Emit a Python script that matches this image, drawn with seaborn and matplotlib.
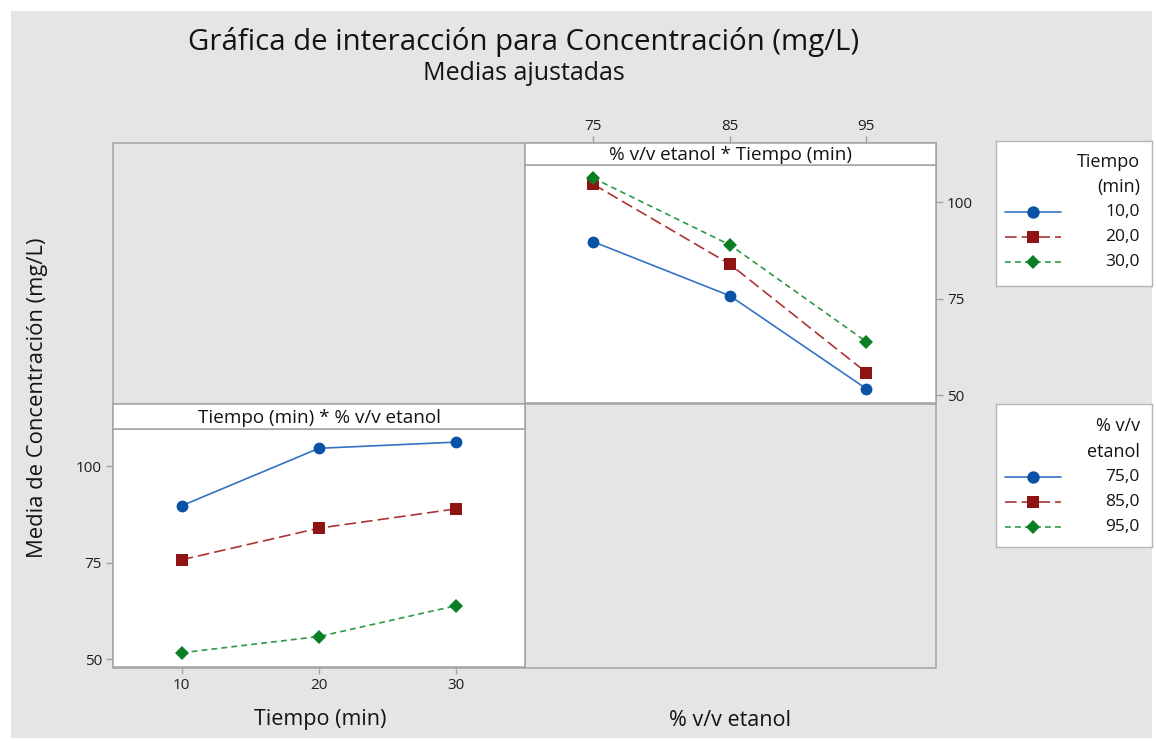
import matplotlib
matplotlib.use("Agg")
import matplotlib.pyplot as plt
import seaborn as sns
import pandas as pd
import numpy as np
from matplotlib.patches import Rectangle
from matplotlib.lines import Line2D

# Factor levels
etanol = [75, 85, 95]          # % v/v etanol
tiempo = [10, 20, 30]          # Tiempo (min)

# Adjusted means of concentration (mg/L), one list per ethanol level, ordered by tiempo
conc_etanol_75 = [89.8, 104.7, 106.3]
conc_etanol_85 = [75.8, 84.0, 89.0]
conc_etanol_95 = [51.7, 55.9, 63.9]

y_ticks = [50, 75, 100]
tiempo_labels = ["10,0", "20,0", "30,0"]
etanol_labels = ["75,0", "85,0", "95,0"]

title = "Gráfica de interacción para Concentración (mg/L)"
subtitle = "Medias ajustadas"
y_label = "Media de Concentración (mg/L)"
strip_tr_text = "% v/v etanol * Tiempo (min)"
strip_bl_text = "Tiempo (min) * % v/v etanol"

df = pd.DataFrame({
    "Etanol": np.repeat(etanol, len(tiempo)),
    "Tiempo": np.tile(tiempo, len(etanol)),
    "Conc": conc_etanol_75 + conc_etanol_85 + conc_etanol_95,
})

sns.set_theme(style="white")
plt.rcParams["font.family"] = ["Open Sans", "DejaVu Sans"]
plt.rcParams["text.color"] = "#141414"

W, H = 1156, 742
BG = "#e5e5e5"
EDGE = "#a3a3a3"
line_cols = ["#3573c4", "#ad3434", "#2c9a44"]
face_cols = ["#0a52a6", "#8e1414", "#0b7f24"]
marks = ["o", "s", "D"]
msizes = {"o": 8.5, "s": 8.6, "D": 6.8}
dash_list = ["", (7, 3), (3.5, 2.5)]

fig = plt.figure(figsize=(W / 100, H / 100), dpi=100, facecolor="white")
fig.patches.append(Rectangle((11 / W, 1 - 738 / H), (1152 - 11) / W, (738 - 11) / H,
                             transform=fig.transFigure, facecolor=BG, edgecolor="none", zorder=-10))


def fx(x):
    return x / W


def fy(y):
    return 1 - y / H


def axes_px(x0, y0, x1, y1, **kw):
    return fig.add_axes([x0 / W, 1 - y1 / H, (x1 - x0) / W, (y1 - y0) / H], **kw)


def style_spines(ax, color=EDGE, lw=1.1):
    for s in ax.spines.values():
        s.set_color(color)
        s.set_linewidth(lw)


# Outer 2x2 frame with the empty diagonal cells
fig.patches.append(Rectangle((fx(113), fy(668)), (936 - 113) / W, (668 - 143) / H,
                             transform=fig.transFigure, fill=False, edgecolor=EDGE, lw=1.1, zorder=-5))
fig.lines.append(Line2D([fx(525), fx(525)], [fy(143), fy(668)], transform=fig.transFigure,
                        color=EDGE, lw=1.1, zorder=-5))
fig.lines.append(Line2D([fx(113), fx(936)], [fy(404), fy(404)], transform=fig.transFigure,
                        color=EDGE, lw=1.1, zorder=-5))


def draw_panel(ax, x, hue, levels):
    pal = dict(zip(levels, line_cols))
    mk = dict(zip(levels, marks))
    ds = dict(zip(levels, dash_list))
    sns.lineplot(data=df, x=x, y="Conc", hue=hue, style=hue, palette=pal, markers=mk,
                 dashes=ds, lw=1.2, markeredgewidth=0, legend=False, ax=ax)
    for line in ax.lines:
        m = line.get_marker()
        if m in msizes:
            line.set_markersize(msizes[m])
            line.set_markerfacecolor(face_cols[marks.index(m)])
    ax.set_xlabel("")
    ax.set_ylabel("")
    ax.set_facecolor("white")
    ax.set_ylim(48, 109.7)
    ax.set_yticks(y_ticks)
    style_spines(ax)


tick_kw = dict(length=5, width=1, color=EDGE, labelsize=11, labelcolor="#1e1e1e", pad=3)

# Top-right panel: concentration vs ethanol, one line per time
ax_tr = axes_px(525, 165, 936, 403)
draw_panel(ax_tr, "Etanol", "Tiempo", tiempo)
ax_tr.set_xlim(70, 100.1)
ax_tr.yaxis.tick_right()
ax_tr.tick_params(axis="y", right=True, left=False, labelright=True, labelleft=False, **tick_kw)
ax_tr.tick_params(axis="x", bottom=False, labelbottom=False)

strip_tr = axes_px(525, 143, 936, 165, sharex=ax_tr)
strip_tr.set_facecolor("white")
strip_tr.set_yticks([])
strip_tr.set_xticks(etanol)
strip_tr.xaxis.tick_top()
top_kw = dict(tick_kw, pad=1.2)
strip_tr.tick_params(axis="x", top=True, bottom=False, labeltop=True, labelbottom=False, **top_kw)
style_spines(strip_tr)
strip_tr.text(0.5, 0.45, strip_tr_text, transform=strip_tr.transAxes, ha="center", va="center",
              fontsize=13.6)

# Bottom-left panel: concentration vs time, one line per ethanol level
ax_bl = axes_px(113, 429, 525, 667)
draw_panel(ax_bl, "Tiempo", "Etanol", etanol)
ax_bl.set_xlim(5, 35)
ax_bl.set_xticks(tiempo)
ax_bl.tick_params(axis="y", left=True, right=False, **tick_kw)
ax_bl.tick_params(axis="x", bottom=True, top=False, **tick_kw)

strip_bl = axes_px(113, 404, 525, 429)
strip_bl.set_facecolor("white")
strip_bl.set_xticks([])
strip_bl.set_yticks([])
style_spines(strip_bl)
strip_bl.text(0.5, 0.45, strip_bl_text, transform=strip_bl.transAxes, ha="center", va="center",
              fontsize=13.6)

# Titles and axis labels
fig.text(fx(524), fy(42), title, ha="center", va="center", fontsize=21.2)
fig.text(fx(524), fy(74), subtitle, ha="center", va="center", fontsize=18)
fig.text(fx(38), fy(398), y_label, rotation=90, ha="center", va="center", fontsize=15.8)
fig.text(fx(320), fy(720), "Tiempo (min)", ha="center", va="center", fontsize=15.5)
fig.text(fx(730), fy(720), "% v/v etanol", ha="center", va="center", fontsize=15.5)


# Legend boxes
def draw_legend(x0, y0, x1, y1, title_lines, title_ys, labels, label_ys):
    lg = axes_px(x0, y0, x1, y1)
    lg.set_xlim(x0, x1)
    lg.set_ylim(y1, y0)
    lg.set_facecolor("white")
    lg.set_xticks([])
    lg.set_yticks([])
    style_spines(lg, color="#b5b5b5", lw=1.0)
    for t, ty in zip(title_lines, title_ys):
        lg.text(1140, ty, t, ha="right", va="center", fontsize=13)
    for i, (lab, ly) in enumerate(zip(labels, label_ys)):
        d = dash_list[i]
        ls = "-" if d == "" else (0, d)
        lg.plot([1005, 1061], [ly, ly], color=line_cols[i], lw=1.2, linestyle=ls)
        lg.plot([1033], [ly], marker=marks[i], markersize=msizes[marks[i]] * 1.05,
                color=face_cols[i], markeredgewidth=0, linestyle="none")
        lg.text(1140, ly, lab, ha="right", va="center", fontsize=12.5)


draw_legend(996, 141, 1152, 286, ["Tiempo", "(min)"], [162, 187], tiempo_labels, [212, 237, 262])
draw_legend(996, 404, 1152, 547, ["% v/v", "etanol"], [426, 452], etanol_labels, [477, 502, 527])

fig.savefig("out.png", dpi=100, facecolor=fig.get_facecolor())
